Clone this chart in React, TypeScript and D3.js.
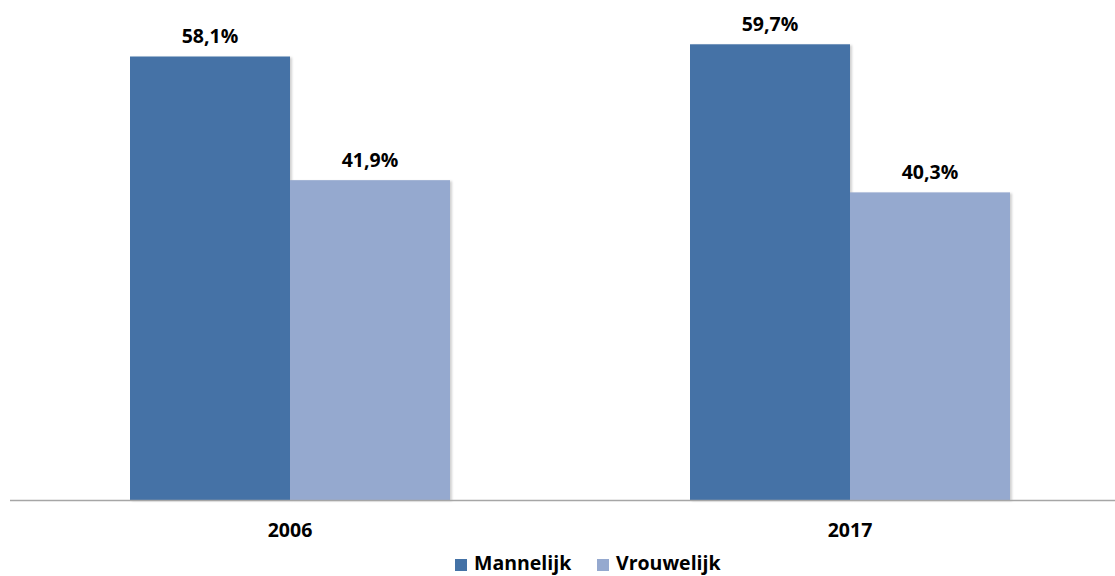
import React from "react";
import * as d3 from "d3";

const categories = ["2006", "2017"];
const seriesNames = ["Mannelijk", "Vrouwelijk"];
const mannelijk = [58.1, 59.7];
const vrouwelijk = [41.9, 40.3];
const valueLabels = [["58,1%", "41,9%"], ["59,7%", "40,3%"]];
const colors = ["#4472A6", "#95A9CF"];

const W = 1115;
const H = 576;
const FONT = "'Open Sans', Lato, sans-serif";
const FS = 19.5;

export default function App() {
  const x0 = d3.scaleBand<string>().domain(categories).range([10, 1130]).paddingInner(0).paddingOuter(0);
  const x1 = d3.scaleBand<string>().domain(seriesNames).range([0, 320]);
  const y = d3.scaleLinear().domain([0, 60]).range([500, 42]);
  const series = [mannelijk, vrouwelijk];

  return (
    <svg width={W} height={H} style={{ position: "absolute", left: 0, top: 0, background: "#fff" }}>
      <defs>
        <filter id="sh" x="-5%" y="-5%" width="115%" height="110%">
          <feDropShadow dx="2" dy="1" stdDeviation="1.2" floodColor="#000" floodOpacity="0.18" />
        </filter>
      </defs>
      {categories.map((c, ci) => {
        const bandStart = (x0(c) as number) + (x0.bandwidth() - 320) / 2;
        return (
          <g key={c}>
            {seriesNames.map((s, si) => {
              const v = series[si][ci];
              const bx = bandStart + (x1(s) as number);
              return (
                <g key={s}>
                  <rect
                    x={bx}
                    y={y(v)}
                    width={x1.bandwidth()}
                    height={y(0) - y(v)}
                    fill={colors[si]}
                    filter="url(#sh)"
                  />
                  <text
                    x={bx + x1.bandwidth() / 2}
                    y={y(v) - 13.5}
                    textAnchor="middle"
                    fontFamily={FONT}
                    fontWeight="bold"
                    fontSize={FS}
                    fill="#000"
                  >
                    {valueLabels[ci][si]}
                  </text>
                </g>
              );
            })}
            <text
              x={(x0(c) as number) + x0.bandwidth() / 2}
              y={537}
              textAnchor="middle"
              fontFamily={FONT}
              fontWeight="bold"
              fontSize={FS}
              fill="#000"
            >
              {c}
            </text>
          </g>
        );
      })}
      <line x1={10} x2={W} y1={y(0) + 0.5} y2={y(0) + 0.5} stroke="#a6a6a6" strokeWidth={1.5} />
      <g>
        {seriesNames.map((s, si) => {
          const lx = si === 0 ? 455 : 597;
          return (
            <g key={s}>
              <rect x={lx} y={559} width={12} height={12} fill={colors[si]} />
              <text x={lx + 19} y={570} fontFamily={FONT} fontWeight="bold" fontSize={FS} fill="#000">
                {s}
              </text>
            </g>
          );
        })}
      </g>
    </svg>
  );
}
